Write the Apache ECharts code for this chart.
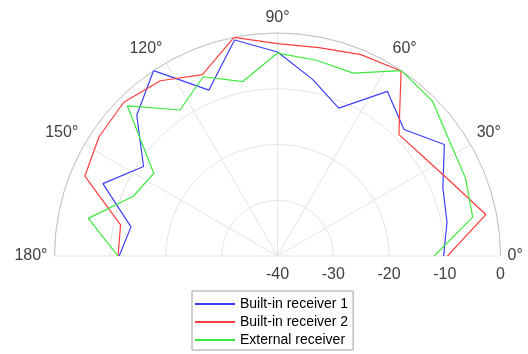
<!DOCTYPE html>
<html>
<head>
<meta charset="utf-8">
<script src="https://cdn.jsdelivr.net/npm/echarts@6/dist/echarts.min.js"></script>
<style>
  html, body { margin: 0; padding: 0; background: #fff; }
  #chart { width: 528px; height: 354px; }
</style>
</head>
<body>
<div id="chart"></div>
<script>
// Measurement angles (degrees), one every 11.25°
const angles = [0, 11.25, 22.5, 33.75, 45, 56.25, 67.5, 78.75, 90, 101.25, 112.5, 123.75, 135, 146.25, 157.5, 168.75, 180];

// Received level (dB) per angle
const builtIn1 = [-10.2, -9.0, -7.9, -4.0, -7.9, -4.5, -11.3, -7.7, -3.4, -0.5, -7.8, 0, -4.3, -11.1, -6.1, -13.2, -11.6];
const builtIn2 = [-9.5, -1.9, -6.0, -8.3, -9.2, -0.1, -0.9, -1.9, -1.9, 0, -4.8, -2.2, -1.0, -1.5, -2.6, -11.3, -11.4];
const external = [-11.9, -4.3, -3.5, -2.9, -0.7, 0, -4.5, -4.2, -3.6, -8.1, -5.2, -8.5, -1.9, -13.3, -12.0, -5.4, -11.4];

const seriesNames = ['Built-in receiver 1', 'Built-in receiver 2', 'External receiver'];
const seriesColors = ['#3d3dff', '#ff3d3d', '#3de83d'];

// Radial axis ticks (dB)
const radiusMin = -40, radiusMax = 0, radiusStep = 10;

const pairs = vals => vals.map((v, i) => [v, angles[i]]);
const seriesData = [builtIn1, builtIn2, external];

const chart = echarts.init(document.getElementById('chart'), null, { renderer: 'canvas' });
const font = 'Liberation Sans, Arial, sans-serif';

chart.setOption({
  backgroundColor: '#ffffff',
  animation: false,
  textStyle: { fontFamily: font },
  polar: { center: [277.5, 256], radius: 223 },
  angleAxis: {
    type: 'value', min: 0, max: 180, interval: 30,
    startAngle: 0, endAngle: 180, clockwise: false,
    axisLine: { show: true, lineStyle: { color: '#c4c4c4', width: 1 } },
    axisTick: { show: false },
    axisLabel: { formatter: '{value}°', fontSize: 16, color: '#404040', margin: 7, fontFamily: font },
    splitLine: { show: true, lineStyle: { color: '#e4e4e4', width: 1 } }
  },
  radiusAxis: {
    type: 'value', min: radiusMin, max: radiusMax, interval: radiusStep,
    axisLine: { show: false },
    axisTick: { show: false },
    axisLabel: { fontSize: 16, color: '#404040', margin: -27, fontFamily: font },
    splitLine: { show: true, lineStyle: { color: '#e4e4e4', width: 1 } }
  },
  legend: {
    orient: 'vertical', left: 192, top: 291, height: 53,
    itemWidth: 40, itemHeight: 2, itemGap: 4,
    icon: 'rect',
    borderColor: '#a0a0a0', borderWidth: 1,
    padding: [6, 5, 3, 3],
    backgroundColor: '#ffffff',
    textStyle: { fontSize: 14, color: '#000000', fontFamily: font },
    data: seriesNames
  },
  series: seriesData.map((vals, i) => ({
    name: seriesNames[i],
    type: 'line',
    coordinateSystem: 'polar',
    symbol: 'none',
    color: seriesColors[i],
    lineStyle: { width: 1.2, color: seriesColors[i] },
    data: pairs(vals)
  }))
});
</script>
</body>
</html>
